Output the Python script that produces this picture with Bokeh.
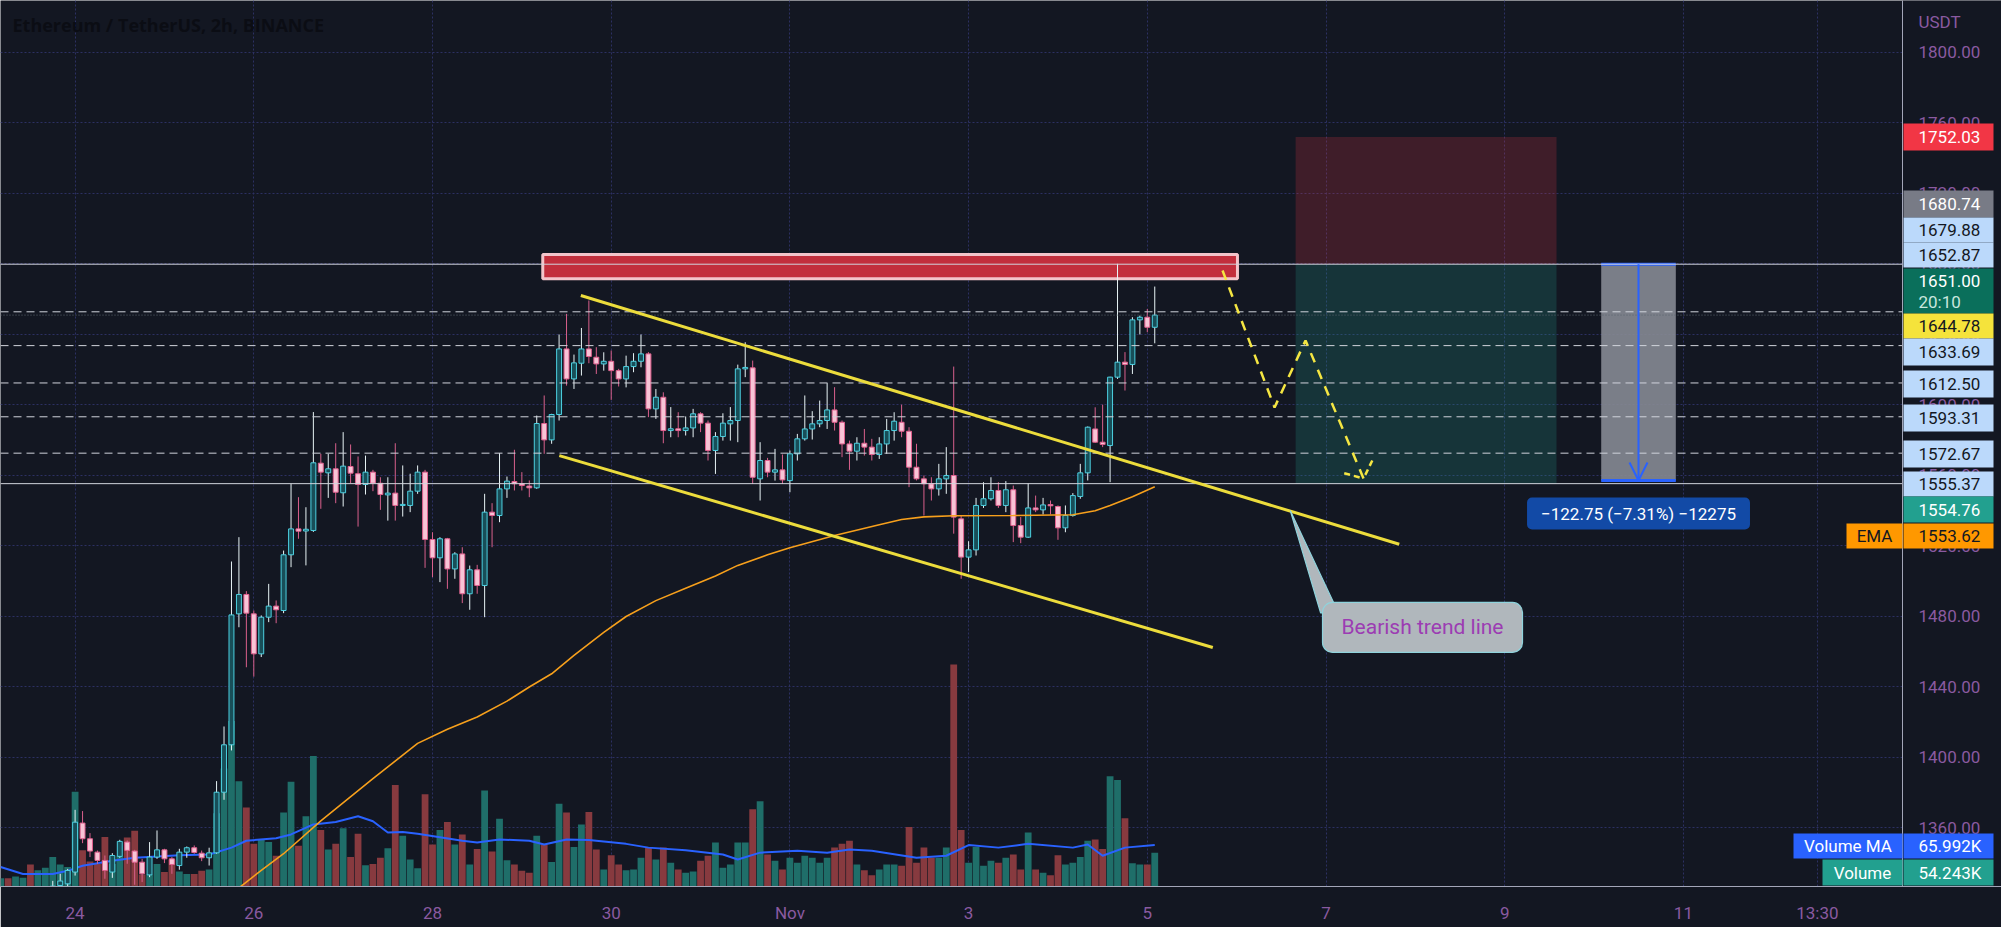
import numpy as np
import pandas as pd
from bokeh.plotting import figure
from bokeh.models import (Range1d, FixedTicker, Label, Arrow, OpenHead, ColumnDataSource)
from bokeh.core.properties import value
from bokeh.embed import file_html
from bokeh.resources import INLINE

# ---------------- data ----------------
first_candle = "2022-10-23 04:00"   # 2h candles, ETH/USDT
opens = [1318,1319,1317,1318,1320,1318,1321,1324,1327.4,1328.3,
 1335,1362.8,1353.9,1346.3,1341.6,1335,1343.9,1352,1346.9,1340.6,
 1333.4,1343.5,1347.6,1342.5,1338.7,1346.3,1348.8,1345.7,1343.1,1345.9,
 1380.3,1407.2,1481.5,1492.5,1481.5,1458.8,1479.6,1485.9,1483.4,1515,
 1529.7,1528.5,1528.8,1567,1561.5,1563.8,1550.2,1565.1,1561,1554.9,
 1561.9,1555.6,1549,1550,1543,1543,1551.1,1561.9,1523.7,1513.3,
 1524.1,1507,1515.5,1492.9,1506.5,1497.6,1539.2,1537.3,1552.4,1556.6,
 1555.3,1554,1553,1589.5,1580.2,1594.6,1631.8,1614.8,1623.7,1631.8,
 1627.1,1623.3,1624.8,1619.5,1614.8,1621.8,1624.8,1629,1597.8,1604.4,
 1585.5,1586.5,1585.5,1587,1595,1589.7,1574.2,1582.1,1589.3,1591.2,
 1620.5,1621.1,1558.1,1568.5,1561.9,1563.2,1557.1,1572.3,1580.8,1586.4,
 1589.3,1591.2,1597.2,1590.2,1577.9,1573.8,1578.3,1576.1,1571.9,1577.9,
 1585.5,1590.2,1585.1,1564.7,1558.1,1555.3,1552.4,1558.1,1560,1535.4,
 1513.7,1517.8,1543,1546.8,1551.5,1543,1551.9,1531.6,1525,1541.6,
 1540.5,1543.5,1542.4,1530.3,1537.3,1548.1,1561.5,1586.4,1578.9,1577,
 1615.8,1624.3,1623,1648.3,1649.8,1644.1]
highs = [1321,1322,1320,1322,1323,1322,1325,1330,1334,1336.8,
 1370.3,1369.6,1357.1,1347.2,1344.4,1345.7,1353.3,1352.9,1347.6,1342.5,
 1352,1358.6,1348.2,1343.5,1348.2,1349.5,1350.1,1347.2,1348.8,1386.6,
 1417.6,1511.2,1525,1494.4,1483.4,1480.6,1498.5,1489.1,1517.4,1555.3,
 1547.7,1542,1596,1572.3,1572.3,1578.3,1584.6,1577.6,1570.8,1571.3,
 1563.2,1559,1559,1578.3,1565.7,1561,1565.7,1563.2,1527.8,1525,
 1524.6,1516.5,1519.3,1508.9,1509.3,1549.6,1544.3,1572.7,1559.4,1574.6,
 1561.9,1557.2,1594,1605.4,1595,1640,1651.7,1628.6,1643.7,1659.3,
 1632.8,1629.9,1630.9,1620.5,1628,1629.4,1640,1630,1609.1,1607.2,
 1598.8,1595.9,1593.5,1597.8,1595.9,1591.2,1584.6,1595.3,1598.8,1622.9,
 1635.6,1625.2,1578.9,1570,1575.1,1571.9,1574.2,1583.6,1605.4,1596.5,
 1602.5,1612.4,1610.1,1591.2,1579.8,1581.7,1586.4,1580.8,1581.7,1592.1,
 1595.9,1600.2,1587.4,1578,1560,1559,1566.6,1576.1,1621.8,1537.3,
 1522.7,1547.3,1556.2,1559,1556.2,1556.8,1554.3,1536.4,1555.6,1548.6,
 1547.3,1545.8,1543,1543,1550,1566.6,1587.8,1598.7,1600.2,1616,
 1680.1,1630,1649.8,1650.7,1654.5,1667.2]
lows = [1315,1316,1314,1316,1316,1316,1319,1322,1326,1327,
 1333,1351.4,1343.5,1339.7,1331.2,1331.7,1343.1,1339.7,1327.8,1329.3,
 1332.1,1342.5,1340.1,1334,1336.3,1343.1,1345.4,1341.2,1338.7,1345.4,
 1376,1404,1473.9,1451.2,1445.9,1457,1476.8,1476.2,1481.9,1508,
 1524.1,1509,1528,1541.1,1547.3,1544.3,1542.4,1555.6,1531,1549.2,
 1551.1,1540.5,1534.4,1534.4,1536.7,1539.2,1549.6,1507.6,1502.3,1499.5,
 1495.7,1501.4,1487.6,1483.8,1492.9,1479.6,1519.3,1533.5,1547.3,1551.5,
 1551.5,1547.7,1552.4,1572.3,1578,1591.2,1611,1609.1,1616.7,1623.7,
 1617.6,1619.5,1602.9,1610.5,1610,1618.6,1621.4,1593.1,1592.1,1578.3,
 1581.7,1581.7,1582.7,1581.7,1584.6,1568.5,1560.9,1579.8,1579.8,1578.9,
 1615.8,1555.2,1545.8,1559,1557.1,1555.2,1550.5,1568.5,1579.8,1580.4,
 1587.4,1586.4,1585.5,1570.4,1563.2,1568.5,1571.3,1568.5,1569.4,1572.3,
 1579.8,1581.7,1553.4,1557.2,1537.3,1545.8,1548.6,1549.6,1527,1501.4,
 1505.2,1514.6,1541.6,1545.8,1541.6,1539.2,1522.2,1521.6,1524.6,1539.2,
 1537.9,1537.9,1523.5,1527.8,1536.7,1546.8,1557.2,1578.5,1576.1,1556.2,
 1614.8,1608.2,1617.6,1640,1641.3,1635]
closes = [1319,1317,1318,1320,1318,1321,1324,1327,1329.9,1335.9,
 1363.3,1353.9,1346.9,1341.6,1335.9,1344.4,1352.4,1347.3,1340.6,1334,
 1343.5,1347.6,1342.5,1339.3,1346.3,1348.8,1346.1,1343.1,1345.9,1380.3,
 1407.2,1480.9,1492.5,1481.9,1458.8,1479.6,1485.9,1483.8,1515,1529.7,
 1528.4,1529.5,1567.2,1561.9,1563.8,1550.5,1565.3,1561.3,1554.9,1561.9,
 1555.6,1549.2,1550,1543,1543.6,1551.1,1561.9,1523.7,1513.3,1524.1,
 1507,1515.5,1492.9,1506.5,1497.6,1539.2,1537.3,1552.4,1556.8,1555.3,
 1554.3,1553,1589.5,1580.2,1594.6,1631.8,1614.8,1623.9,1631.8,1627.5,
 1623.3,1624.8,1619.5,1614.8,1621.8,1624.8,1629,1597.8,1604.4,1585.5,
 1586.5,1585.5,1587,1595,1589.7,1574.2,1582.1,1589.7,1591.2,1620.5,
 1621.3,1559,1568.5,1561.9,1563.2,1557.5,1572.3,1580.8,1586.4,1589.3,
 1591.2,1597.2,1590.2,1577.9,1573.8,1578.3,1576.1,1571.9,1577.9,1585.5,
 1590.8,1585.1,1564.7,1558.1,1555.3,1552.4,1558.1,1560,1536.4,1513.7,
 1517.8,1543,1546.8,1551.5,1543,1551.9,1531.6,1525,1541.6,1540.5,
 1543.3,1542.8,1530.3,1537.3,1548.6,1561.5,1587.4,1578.9,1577.6,1615.8,
 1624.3,1623,1648.3,1649.8,1644.1,1651]
volumes_k = [13,13,16,14,35,26,30,47,35,31,
 151,58,40,36,79,36,49,78,89,19,
 19,36,23,43,24,20,20,25,27,117,
 188,264,168,126,68,74,71,49,118,167,
 65,112,208,90,59,68,93,47,84,34,
 36,46,61,162,81,43,29,147,67,90,
 103,67,83,35,60,153,56,108,42,35,
 25,22,81,67,39,132,118,63,99,119,
 59,27,50,35,26,27,46,62,43,62,
 38,27,22,24,41,49,70,30,35,70,
 70,123,136,51,41,27,46,38,49,46,
 38,46,62,68,73,35,26,18,27,35,
 35,33,95,38,62,46,46,62,354,90,
 38,63,33,41,38,46,51,27,86,27,
 22,18,50,35,38,47,73,75,60,176,
 170,109,37,35,35,54]

# EMA and volume MA at some candle numbers (0 = first candle)
ema_candle = [28,32,35,38,43,50,56,60,64,68,71,74,77,81,84,88,92,96,99,103,106,112,118,121,124,128,136,144,147,149,152,155]
ema_value = [1312,1326,1336,1345.4,1364,1388,1408,1416,1423,1432,1440,1447.5,1458,1471,1480,1489,1496,1503,1509,1515,1519,1526,1532,1535,1536.5,1537.2,1537.3,1537.7,1540,1543,1548,1553.6]
vma_candle = [0,3,7,9,11,15,18,24,28,31,33,37,39,42,45,48,50,52,54,56,62,64,67,71,73,76,79,84,87,92,97,99,102,107,111,114,117,123,127,130,134,138,144,146,148,151,155]
vma_value = [31,20,20,25,33,41,46,50,51,62,73,77,83,99,103,112,104,86,87,84,73,70,75,73,67,75,74,68,62,58,51,43,54,57,54,59,57,46,49,66,62,68,62,67,49,62,66]

price_ticks = [1360,1400,1440,1480,1520,1560,1600,1640,1680,1720,1760,1800]
date_ticks = [0, 2, 4, 6, 8, 10, 12, 14, 16, 18, 19.5]      # days after 24 Oct
date_labels = ["24", "26", "28", "30", "Nov", "3", "5", "7", "9", "11", "13:30"]

entry_price, stop_price, target_price = 1679.88, 1752.03, 1555.37
measure_change = -122.75
dashed_levels = [1652.87, 1633.69, 1612.50, 1593.31, 1572.67]
last_price = 1651.00
high_mark, alert_price, prev_close = 1680.74, 1644.78, 1554.76
ema_last, vol_ma_last, vol_last = 1553.62, 65.992, 54.243

# drawings (day, price)
resistance_zone = dict(d0=5.234, d1=13.009, p0=1671.6, p1=1685.4)
channel_upper = ([5.66, 14.82], [1662.1, 1521.0])
channel_lower = ([5.419, 12.733], [1571.3, 1462.4])
projection_path = ([12.842, 13.424, 13.771, 14.42], [1676.3, 1598.6, 1636.6, 1558.3])
position_days = (13.66, 16.58)
measure_days = (17.08, 17.915)

# ---------------- layout constants ----------------
BG = "#131722"
PX_PER_DAY = 89.35
PX_PER_PRICE = 1.7625
X0 = -0.835
X1 = X0 + 2001 / PX_PER_DAY
Y1 = 1829.5
Y0 = Y1 - 886 / PX_PER_PRICE


def day_at(px):
    return X0 + px / PX_PER_DAY


def price_at(py):
    return Y1 - py / PX_PER_PRICE


AXIS_DAY = day_at(1902)

n = len(opens)
t = pd.date_range(first_candle, periods=n, freq="2h")
day = ((t - pd.Timestamp("2022-10-24")) / pd.Timedelta(days=1)).to_numpy()
o = np.array(opens); h = np.array(highs); l = np.array(lows); c = np.array(closes)
up = c >= o

p = figure(width=2001, height=927, x_range=Range1d(X0, X1), y_range=Range1d(Y0, Y1),
           y_axis_location=None, output_backend="svg", toolbar_location=None,
           min_border_left=0, min_border_top=0, min_border_right=0, min_border_bottom=41,
           background_fill_color=BG, border_fill_color=BG, outline_line_color=None)
p.extra_y_ranges = {"vol": Range1d(0, 1413)}

# grid
p.xgrid.ticker = FixedTicker(ticks=date_ticks)
p.ygrid.ticker = FixedTicker(ticks=price_ticks)
for g in (p.xgrid, p.ygrid):
    g.grid_line_color = "#2c3062"
    g.grid_line_dash = "2 2"
    g.grid_line_width = 1

# time axis
AX_COL = "#8a5aa0"
p.xaxis.ticker = FixedTicker(ticks=date_ticks)
p.xaxis.major_label_overrides = {k: v for k, v in zip(date_ticks, date_labels)}
p.xaxis.major_tick_line_color = None
p.xaxis.minor_tick_line_color = None
p.xaxis.axis_line_color = "#a3a6b8"
p.xaxis.major_label_text_color = AX_COL
p.xaxis.major_label_text_font = "Roboto"
p.xaxis.major_label_text_font_size = "17px"
p.xaxis.major_label_standoff = 10

# volume
vol_src = ColumnDataSource(dict(x=day, top=volumes_k,
                                color=np.where(up, "#1f6e69", "#873a3f")))
p.vbar(x="x", top="top", bottom=0, width=0.076, fill_color="color", line_color=None,
       source=vol_src, y_range_name="vol")
vma_day = day[np.array(vma_candle)]
p.line(vma_day, vma_value, line_color="#2962ff", line_width=2, y_range_name="vol")

# position (risk / reward) boxes
p.quad(left=position_days[0], right=position_days[1], bottom=entry_price, top=stop_price,
       fill_color="#f23645", fill_alpha=0.2, line_color=None)
p.quad(left=position_days[0], right=position_days[1], bottom=target_price, top=entry_price,
       fill_color="#22ab94", fill_alpha=0.2, line_color=None)

# resistance zone
rz = resistance_zone
p.quad(left=rz["d0"], right=rz["d1"], bottom=rz["p0"], top=rz["p1"],
       fill_color="#c22e3c", line_color="#f3c4ca", line_width=3)

# measure tool box
p.quad(left=measure_days[0], right=measure_days[1], bottom=entry_price + measure_change,
       top=entry_price, fill_color="#868993", fill_alpha=0.9, line_color=None)
p.segment(x0=[measure_days[0]] * 2, x1=[measure_days[1]] * 2,
          y0=[entry_price, entry_price + measure_change],
          y1=[entry_price, entry_price + measure_change], line_color="#2962ff", line_width=3)
mid_m = (measure_days[0] + measure_days[1]) / 2
p.add_layout(Arrow(end=OpenHead(size=18, line_color="#2962ff", line_width=2),
                   x_start=mid_m, y_start=entry_price, x_end=mid_m,
                   y_end=entry_price + measure_change, line_color="#2962ff", line_width=2))

# candles
cs = ColumnDataSource(dict(x=day, o=o, h=h, l=l, c=c,
                           top=np.maximum(o, c), bot=np.minimum(o, c),
                           wick=np.where(up, "#e8f4f6", "#d9608c"),
                           fill=np.where(up, "#184e58", "#f8c4d6"),
                           edge=np.where(up, "#4dd0e1", "#e0608e")))
p.segment(x0="x", x1="x", y0="l", y1="h", line_color="wick", line_width=1, source=cs)
p.vbar(x="x", top="top", bottom="bot", width=0.055, fill_color="fill",
       line_color="edge", line_width=1, source=cs)

# EMA
ema_day = day[np.array(ema_candle)]
p.line(ema_day, ema_value, line_color="#f7a01c", line_width=1.6)

# horizontal levels (end at the price scale)
p.segment(x0=X0, x1=AXIS_DAY, y0=[entry_price, target_price], y1=[entry_price, target_price],
          line_color="#d1d4dc", line_width=1)
p.segment(x0=X0, x1=AXIS_DAY, y0=dashed_levels, y1=dashed_levels,
          line_color="#d1d4dc", line_width=1, line_dash="8 5")
p.segment(x0=X0, x1=AXIS_DAY, y0=last_price, y1=last_price,
          line_color="#5d6470", line_width=1, line_dash="1 2")

# channel lines
p.line(*channel_upper, line_color="#ecdc3c", line_width=3)
p.line(*channel_lower, line_color="#ecdc3c", line_width=3)

# projected path
p.line(*projection_path, line_color="#f5e642", line_width=2.5, line_dash="10 8")
px, py = projection_path
p.segment(x0=[14.204, 14.518], y0=[1561.3, 1568.5], x1=[px[-1]] * 2, y1=[py[-1]] * 2,
          line_color="#f5e642", line_width=2.5, line_dash="6 4")

# callout "Bearish trend line"
p.patch([13.6, 13.94, 14.14], [1540.1, 1482, 1482], fill_color="#b0b7bc",
        line_color="#8fd3dc", line_width=1.2)
p.add_layout(Label(x=15.08, y=1473.8, text="Bearish trend line", text_align="center",
                   text_baseline="middle", text_font="Roboto", text_font_size="21px",
                   text_color="#9c3cb3", background_fill_color="#b0b7bc",
                   border_line_color="#8fd3dc", border_line_width=1.2, border_radius=10,
                   padding=dict(left=19, right=19, top=13, bottom=13)))

# measure label
p.add_layout(Label(x=mid_m, y=1538.4,
                   text="\u2212122.75 (\u22127.31%) \u221212275", text_align="center",
                   text_baseline="middle", text_font="Roboto", text_font_size="17px",
                   text_color="#ffffff", background_fill_color="#124aa6", border_radius=5,
                   padding=dict(left=14, right=14, top=6, bottom=6)))

# title
p.add_layout(Label(x=12, y=886 - 24, x_units="screen", y_units="screen",
                   text="Ethereum / TetherUS, 2h, BINANCE", text_baseline="middle",
                   text_font="Open Sans", text_font_size="18px", text_font_style="bold",
                   text_color="#0b0d14"))

# ---------------- price scale (right) ----------------
p.quad(left=day_at(1902.5), right=X1, bottom=Y0, top=Y1, fill_color=BG, line_color=None)
p.segment(x0=AXIS_DAY, x1=AXIS_DAY, y0=Y0, y1=Y1, line_color="#a3a6b8", line_width=1)
p.text(x=day_at(1918), y=price_ticks, text=[f"{v:.2f}" for v in price_ticks],
       text_font=value("Roboto"), text_font_size="17px", text_color=AX_COL,
       text_baseline="middle", text_align="left")
p.text(x=[day_at(1918)], y=[price_at(21)], text=["USDT"], text_font=value("Roboto"),
       text_font_size="17px", text_color=AX_COL, text_baseline="middle")

LB = "#bbd9fb"; DARK = "#131722"; GRN = "#0a6f5b"; TEAL = "#22a08f"
# (text, canvas top, canvas bottom, background, text colour, text row)
tags = [
    (f"{stop_price:.2f}", 123, 150, "#f23645", "#ffffff", 136.5),
    (f"{high_mark:.2f}", 190, 217, "#787b86", "#ffffff", 203.5),
    (f"{entry_price:.2f}", 217, 242, LB, DARK, 229.5),
    (f"{dashed_levels[0]:.2f}", 242, 267, LB, DARK, 254.5),
    (f"{last_price:.2f}", 268, 313, GRN, "#ffffff", 280),
    (f"{alert_price:.2f}", 313, 338, "#f5e33b", DARK, 325.8),
    (f"{dashed_levels[1]:.2f}", 338, 365, LB, DARK, 351.7),
    (f"{dashed_levels[2]:.2f}", 370, 397, LB, DARK, 383.3),
    (f"{dashed_levels[3]:.2f}", 404, 431, LB, DARK, 417.3),
    (f"{dashed_levels[4]:.2f}", 440, 467, LB, DARK, 453.3),
    (f"{target_price:.2f}", 471, 496, LB, DARK, 483.3),
    (f"{prev_close:.2f}", 496, 522, TEAL, "#ffffff", 509),
    (f"{ema_last:.2f}", 523, 548, "#ff9800", DARK, 535.5),
    (f"{vol_ma_last:.3f}K", 833, 858, "#2962ff", "#ffffff", 845.5),
    (f"{vol_last:.3f}K", 859, 885, TEAL, "#ffffff", 872),
]
tag_src = ColumnDataSource(dict(
    top=[price_at(tg[1]) for tg in tags], bottom=[price_at(tg[2]) for tg in tags],
    fill=[tg[3] for tg in tags], color=[tg[4] for tg in tags],
    text=[tg[0] for tg in tags], y=[price_at(tg[5]) for tg in tags]))
p.quad(left=day_at(1903), right=day_at(1993), top="top", bottom="bottom",
       fill_color="fill", line_color=None, source=tag_src)
p.text(x=day_at(1918), y="y", text="text", text_color="color", source=tag_src,
       text_font=value("Roboto"), text_font_size="17px", text_baseline="middle")
p.text(x=[day_at(1918)], y=[price_at(301)], text=["20:10"], text_color="#c8e6de",
       text_font=value("Roboto"), text_font_size="17px", text_baseline="middle")

# indicator name tags left of the scale
name_tags = [("EMA", 1846, 523, 548, "#ff9800", DARK),
             ("Volume MA", 1793, 833, 858, "#2962ff", "#ffffff"),
             ("Volume", 1822, 859, 885, TEAL, "#ffffff")]
name_src = ColumnDataSource(dict(
    left=[day_at(nt[1]) for nt in name_tags], top=[price_at(nt[2]) for nt in name_tags],
    bottom=[price_at(nt[3]) for nt in name_tags], fill=[nt[4] for nt in name_tags],
    color=[nt[5] for nt in name_tags], text=[nt[0] for nt in name_tags],
    x=[day_at((nt[1] + 1902) / 2) for nt in name_tags],
    y=[price_at((nt[2] + nt[3]) / 2) for nt in name_tags]))
p.quad(left="left", right=AXIS_DAY, top="top", bottom="bottom", fill_color="fill",
       line_color=None, source=name_src)
p.text(x="x", y="y", text="text", text_color="color", source=name_src,
       text_font=value("Roboto"), text_font_size="17px", text_baseline="middle",
       text_align="center")

open("out.html", "w").write(file_html(p, INLINE))
